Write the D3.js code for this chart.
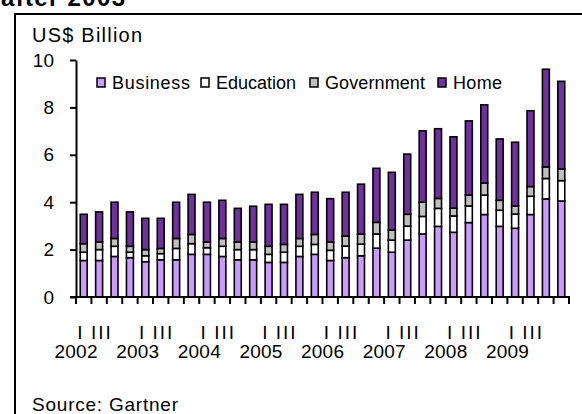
<!DOCTYPE html>
<html><head><meta charset="utf-8">
<script src="https://cdn.jsdelivr.net/npm/d3@7"></script>
<style>body{margin:0;background:#fff}text{font-family:"Liberation Sans",Arial,sans-serif;fill:#000}</style>
</head><body><svg id="c" width="582" height="414"></svg>
<script>
const years = ["2002","2003","2004","2005","2006","2007","2008","2009"];
const quarterLabels = ["I","","III",""];
const seriesNames = ["Business","Education","Government","Home"];
const business   = [1.54,1.54,1.71,1.66,1.49,1.57,1.57,1.80, 1.80,1.71,1.57,1.57,1.46,1.46,1.71,1.80, 1.54,1.66,1.74,2.06,1.89,2.40,2.66,2.98, 2.73,3.14,3.48,2.98,2.90,3.48,4.14,4.05];
const education  = [0.35,0.46,0.43,0.23,0.25,0.26,0.48,0.45, 0.28,0.43,0.43,0.43,0.34,0.43,0.43,0.42, 0.43,0.49,0.49,0.60,0.51,0.59,0.74,0.76, 0.69,0.70,0.82,0.68,0.60,0.77,0.86,0.86];
const government = [0.36,0.32,0.33,0.25,0.26,0.22,0.42,0.39, 0.24,0.33,0.32,0.32,0.34,0.33,0.33,0.42, 0.35,0.42,0.43,0.49,0.43,0.50,0.60,0.42, 0.33,0.46,0.51,0.42,0.34,0.41,0.49,0.49];
const home       = [1.24,1.27,1.53,1.45,1.32,1.27,1.53,1.69, 1.68,1.61,1.42,1.51,1.77,1.69,1.86,1.78, 1.83,1.85,2.10,2.28,2.43,2.54,3.01,2.94, 3.01,3.13,3.30,2.59,2.69,3.20,4.12,3.70];
const yTicks = [0,2,4,6,8,10];
const colors = {Business:"#cc99ff",Education:"#ffffff",Government:"#c0c0c0",Home:"#7030a0"};

const rows = [];
years.forEach((y,yi)=>{ for(let q=0;q<4;q++){ const i=yi*4+q;
  rows.push({key:y+"Q"+(q+1), year:y, q, Business:business[i],Education:education[i],Government:government[i],Home:home[i]}); }});

const svg = d3.select("#c");
const x = d3.scaleBand().domain(rows.map(d=>d.key)).range([76,569]).paddingInner(0.55).paddingOuter(0.275);
const y = d3.scaleLinear().domain([0,10]).range([297,60]);

// frame
svg.append("line").attr("x1",15).attr("x2",15).attr("y1",13).attr("y2",414).attr("stroke","#000").attr("stroke-width",2);
svg.append("line").attr("x1",14).attr("x2",582).attr("y1",14).attr("y2",14).attr("stroke","#000").attr("stroke-width",2);
// cut-off title
svg.append("text").attr("x",1).attr("y",6).attr("font-size",24).attr("font-weight","bold").attr("textLength",124).attr("lengthAdjust","spacing").text("after 2003");

svg.append("text").attr("x",32).attr("y",42).attr("font-size",20).attr("textLength",110).attr("lengthAdjust","spacing").text("US$ Billion");

const stack = d3.stack().keys(seriesNames)(rows);
svg.append("g").selectAll("g").data(stack).join("g")
  .attr("fill",d=>colors[d.key])
  .selectAll("rect").data(d=>d).join("rect")
  .attr("x",d=>x(d.data.key)).attr("width",x.bandwidth())
  .attr("y",d=>y(d[1])).attr("height",d=>y(d[0])-y(d[1]))
  .attr("stroke","#000").attr("stroke-width",1.6);

// y axis
const ya = svg.append("g").attr("transform","translate(76,0)")
  .call(d3.axisLeft(y).tickValues(yTicks).tickSize(6).tickSizeOuter(0).tickPadding(16));
ya.select(".domain").attr("stroke-width",2);
ya.selectAll(".tick line").attr("stroke-width",2);
ya.selectAll("text").attr("font-size",19).attr("font-family","Liberation Sans, Arial, sans-serif");

// x axis baseline and ticks between categories
const step = x.step();
const gap = (step-x.bandwidth())/2;
svg.append("line").attr("x1",70).attr("x2",570).attr("y1",y(0)).attr("y2",y(0)).attr("stroke","#000").attr("stroke-width",2);
svg.append("g").selectAll("line").data(rows).join("line")
  .attr("x1",d=>x(d.key)-gap).attr("x2",d=>x(d.key)-gap)
  .attr("y1",y(0)).attr("y2",y(0)+7).attr("stroke","#000").attr("stroke-width",2);
svg.append("line").attr("x1",569).attr("x2",569).attr("y1",y(0)).attr("y2",y(0)+7).attr("stroke","#000").attr("stroke-width",2);

// quarter labels
svg.append("g").selectAll("text").data(rows.filter(d=>quarterLabels[d.q]!=="")).join("text")
  .attr("x",d=>{const s=x(d.key)-gap; return d.q===0? s+4 : s-5;})
  .attr("y",339).attr("font-size",19).attr("text-anchor","middle").attr("letter-spacing",d=>d.q===0?0:2).text(d=>quarterLabels[d.q]);
// year labels
svg.append("g").selectAll("text").data(rows.filter(d=>d.q===0)).join("text")
  .attr("x",d=>x(d.key)-gap-21.5).attr("y",358).attr("font-size",19).attr("textLength",43).attr("lengthAdjust","spacing").text(d=>d.year);

// legend
const legX = [97,201,310,438];
const legW = [78,80,100,49];
const lg = svg.append("g").selectAll("g").data(seriesNames).join("g")
  .attr("transform",(d,i)=>`translate(${legX[i]},78)`);
lg.append("rect").attr("width",8).attr("height",9).attr("fill",d=>colors[d]).attr("stroke","#000").attr("stroke-width",1.5);
lg.append("text").attr("x",15).attr("y",11).attr("font-size",18).attr("textLength",(d,i)=>legW[i]).attr("lengthAdjust","spacing").text(d=>d);

svg.append("text").attr("x",32).attr("y",411).attr("font-size",19).attr("textLength",146).attr("lengthAdjust","spacing").text("Source: Gartner");
</script></body></html>
